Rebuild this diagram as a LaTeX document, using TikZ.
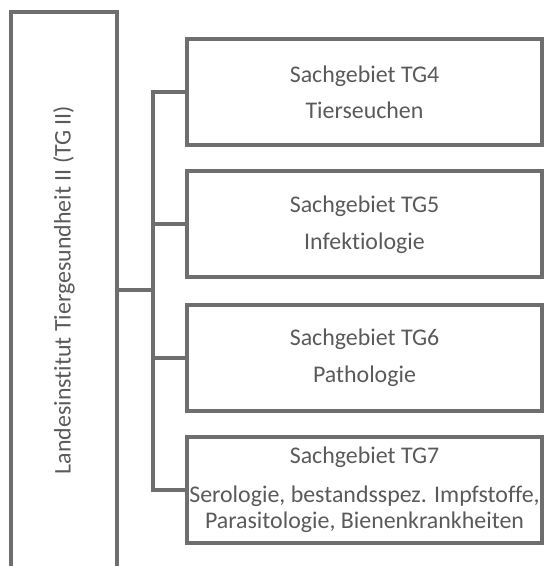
\documentclass[tikz,border=0pt]{standalone}
\usepackage{fontspec}
\setmainfont{Carlito}[Ligatures=CommonOff]
\begin{document}
\begin{tikzpicture}
  % Changing color 110 110 110 (lines) and 90 90 90 (text)
  \definecolor{r110g110b110}{rgb}{0.431373,0.431373,0.431373}%
  \definecolor{r90g90b90}{rgb}{0.352941,0.352941,0.352941}%
  \tikzset{
    sgbox/.style={draw=r110g110b110, line width=0.100000cm, text=r90g90b90, minimum width=8.875000cm, minimum height=2.650000cm, align=center, inner sep=0pt, font=\fontsize{17}{26}\selectfont},
    sgline/.style={draw=r110g110b110, line width=0.100000cm}
  }
  \useasboundingbox (0,0) rectangle (13.600000,14.150000);
  \clip (0,0) rectangle (13.600000,14.150000);

  % Drawing box Landesinstitut
  \node[sgbox, rotate=90, minimum width=13.900000cm, minimum height=2.650000cm] (lti) at (1.600000,6.900000) {Landesinstitut Tiergesundheit II (TG II)};

  % Drawing boxes TG4 .. TG7
  \node[sgbox] (tg4) at (9.112500,11.837500) {Sachgebiet TG4\\Tierseuchen};
  \node[sgbox] (tg5) at (9.112500,8.537500) {Sachgebiet TG5\\Infektiologie};
  \node[sgbox] (tg6) at (9.112500,5.200000) {Sachgebiet TG6\\Pathologie};
  \node[sgbox] (tg7) at (9.112500,1.900000) {Sachgebiet TG7\\[1.7pt]Serologie, bestandsspez. Impfstoffe,\\[-7.5pt]Parasitologie, Bienenkrankheiten};

  % Drawing fork
  \coordinate (fork) at (3.825000,6.900000);
  \draw[sgline] (lti.south) -- (fork);
  \draw[sgline] (tg4.west) -- (tg4.west -| fork) -- (tg7.west -| fork) -- (tg7.west);
  \draw[sgline] (tg5.west) -- (tg5.west -| fork);
  \draw[sgline] (tg6.west) -- (tg6.west -| fork);
\end{tikzpicture}
\end{document}
